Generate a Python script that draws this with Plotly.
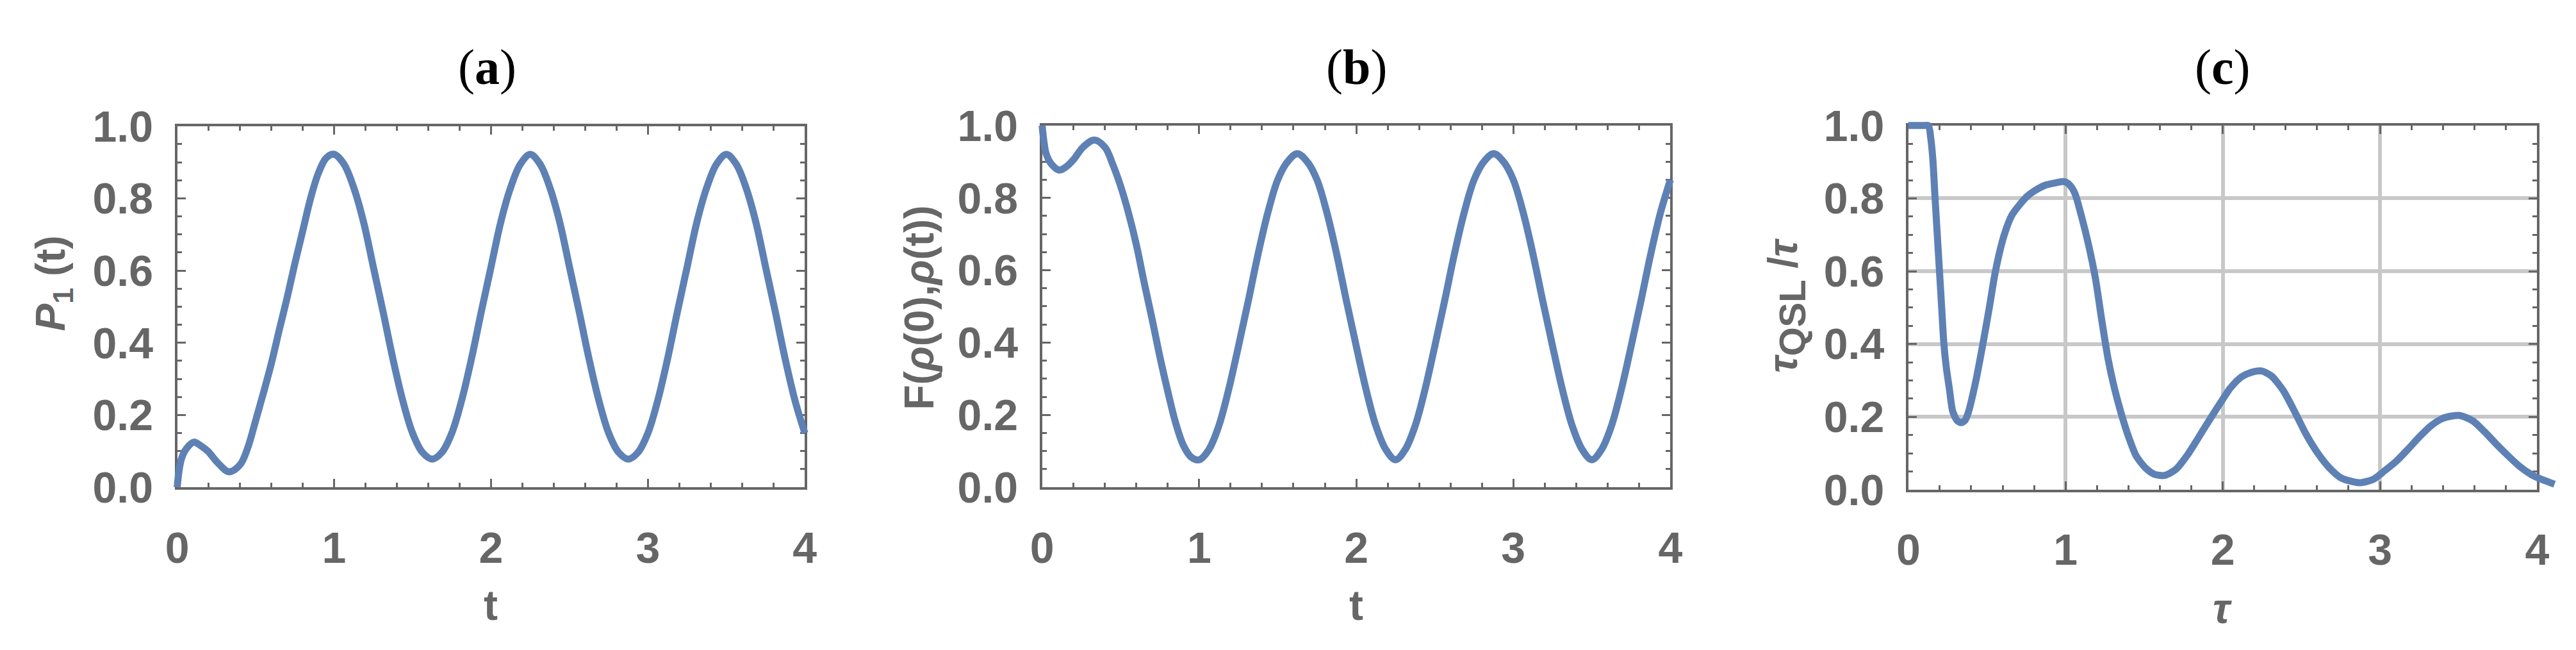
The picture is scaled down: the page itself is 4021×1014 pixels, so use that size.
import plotly.graph_objects as go

# ---------------- data ----------------
t_a = [0, 0.01, 0.027, 0.06, 0.107, 0.15, 0.195, 0.26, 0.33, 0.40, 0.45, 0.5, 0.55, 0.6,
       0.65, 0.7, 0.75, 0.8, 0.85, 0.9, 0.95,
       1.0, 1.0625, 1.125, 1.1875, 1.25, 1.3125, 1.375, 1.4375, 1.5, 1.5625,
       1.625, 1.6875, 1.75, 1.8125, 1.875, 1.9375, 2.0, 2.0625, 2.125, 2.1875,
       2.25, 2.3125, 2.375, 2.4375, 2.5, 2.5625, 2.625, 2.6875, 2.75, 2.8125,
       2.875, 2.9375, 3.0, 3.0625, 3.125, 3.1875, 3.25, 3.3125, 3.375, 3.4375,
       3.5, 3.5625, 3.625, 3.6875, 3.75, 3.8125, 3.875, 3.9375, 4.0]
p1_a = [0, 0.04, 0.079, 0.108, 0.125, 0.115, 0.10, 0.067, 0.043, 0.062, 0.11, 0.185, 0.262, 0.343,
        0.435, 0.524, 0.62, 0.71, 0.80, 0.87, 0.912,
        0.922, 0.895, 0.83, 0.735, 0.61, 0.485, 0.355, 0.24, 0.15, 0.097,
        0.078, 0.097, 0.15, 0.24, 0.355, 0.485, 0.61, 0.735, 0.83, 0.895,
        0.922, 0.895, 0.83, 0.735, 0.61, 0.485, 0.355, 0.24, 0.15, 0.097,
        0.078, 0.097, 0.15, 0.24, 0.355, 0.485, 0.61, 0.735, 0.83, 0.895,
        0.922, 0.895, 0.83, 0.735, 0.61, 0.485, 0.355, 0.24, 0.15]

t_b = [0, 0.01, 0.027, 0.06, 0.108, 0.15, 0.2, 0.26, 0.332, 0.40, 0.45, 0.5, 0.55, 0.6,
       0.65, 0.7, 0.75, 0.8, 0.85, 0.9, 0.95,
       1.0, 1.0625, 1.125, 1.1875, 1.25, 1.3125, 1.375, 1.4375, 1.5, 1.5625,
       1.625, 1.6875, 1.75, 1.8125, 1.875, 1.9375, 2.0, 2.0625, 2.125, 2.1875,
       2.25, 2.3125, 2.375, 2.4375, 2.5, 2.5625, 2.625, 2.6875, 2.75, 2.8125,
       2.875, 2.9375, 3.0, 3.0625, 3.125, 3.1875, 3.25, 3.3125, 3.375, 3.4375,
       3.5, 3.5625, 3.625, 3.6875, 3.75, 3.8125, 3.875, 3.9375, 4.0]
f_b = [1.0, 0.96, 0.92, 0.893, 0.877, 0.885, 0.906, 0.94, 0.96, 0.94, 0.892, 0.832, 0.758, 0.67,
       0.565, 0.465, 0.36, 0.265, 0.178, 0.115, 0.083,
       0.076, 0.105, 0.17, 0.27, 0.39, 0.515, 0.645, 0.76, 0.85, 0.9,
       0.922, 0.9, 0.85, 0.76, 0.645, 0.515, 0.39, 0.27, 0.17, 0.105,
       0.076, 0.105, 0.17, 0.27, 0.39, 0.515, 0.645, 0.76, 0.85, 0.9,
       0.922, 0.9, 0.85, 0.76, 0.645, 0.515, 0.39, 0.27, 0.17, 0.105,
       0.076, 0.105, 0.17, 0.27, 0.39, 0.515, 0.645, 0.76, 0.85]

tau_c = [0, 0.05, 0.1, 0.128, 0.142, 0.156, 0.17, 0.184, 0.198, 0.212, 0.226, 0.243, 0.26,
         0.282, 0.31, 0.335, 0.36, 0.38, 0.425, 0.474, 0.515, 0.554, 0.61, 0.66, 0.714,
         0.756, 0.8, 0.87, 0.94, 0.98, 1.0, 1.03, 1.06, 1.10, 1.146, 1.19, 1.23, 1.27,
         1.31, 1.356, 1.40, 1.45, 1.51, 1.565, 1.628, 1.70, 1.77, 1.84, 1.91, 1.98,
         2.05, 2.12, 2.18, 2.246, 2.31, 2.385, 2.46, 2.53, 2.606, 2.68, 2.753, 2.826,
         2.878, 2.96, 3.03, 3.106, 3.18, 3.253, 3.326, 3.4, 3.503, 3.59, 3.665, 3.74,
         3.81, 3.885, 3.96, 4.0, 4.047, 4.11]
qsl_c = [1.0, 1.0, 1.0, 1.0, 0.967, 0.906, 0.80, 0.70, 0.60, 0.50, 0.40, 0.33, 0.28,
         0.215, 0.19, 0.184, 0.19, 0.21, 0.29, 0.40, 0.50, 0.60, 0.70, 0.755, 0.786,
         0.806, 0.82, 0.836, 0.843, 0.846, 0.845, 0.835, 0.813, 0.753, 0.673, 0.58, 0.466, 0.36,
         0.28, 0.206, 0.146, 0.092, 0.059, 0.042, 0.039, 0.055, 0.092, 0.139, 0.188, 0.235,
         0.28, 0.31, 0.322, 0.326, 0.312, 0.272, 0.212, 0.152, 0.099, 0.059, 0.032, 0.022,
         0.019, 0.029, 0.052, 0.079, 0.112, 0.146, 0.176, 0.196, 0.204, 0.189, 0.159, 0.125,
         0.095, 0.065, 0.042, 0.033, 0.025, 0.015]

x_tick_vals = [0, 1, 2, 3, 4]
x_tick_text = ["0", "1", "2", "3", "4"]
y_tick_vals = [0, 0.2, 0.4, 0.6, 0.8, 1.0]
y_tick_text = ["0.0", "0.2", "0.4", "0.6", "0.8", "1.0"]

panel_titles = ["(<b>a</b>)", "(<b>b</b>)", "(<b>c</b>)"]
x_titles = ["t", "t", "<i>τ</i>"]
y_titles = ["<i>P</i><sub>1</sub> (t)",
            "F(<i>ρ</i>(0),<i>ρ</i>(t))",
            "<i>τ</i><sub><span style='font-size:58px'>QSL</span></sub> /<i>τ</i>"]

# ---------------- layout / styling ----------------
W, H = 4021, 1014
GRAY = "#666666"
BLUE = "#5e81b5"
GRID = "#c8c8c8"
SANS = "Liberation Sans"
SERIF = "Liberation Serif"

# pixel boxes of the three frames (left, right, top, bottom)
boxes = [(252, 1241, 163, 772), (1615, 2605, 162, 772), (2980, 3971, 162, 776)]
title_pos = [(741, 63), (2110, 63), (3475, 63)]
xtitle_pos = [(746, 971), (2110, 971), (3475, 976)]
ytitle_pos = [(56, 428), (1421, 469), (2787, 466)]
smooth = [1.0, 1.0, 0.7]

series = [(t_a, p1_a), (t_b, f_b), (tau_c, qsl_c)]


def sfx(n):
    return "" if n == 1 else str(n)


fig = go.Figure()
layout = dict(width=W, height=H, margin=dict(l=0, r=0, t=0, b=0), autosize=False,
              paper_bgcolor="white", plot_bgcolor="rgba(0,0,0,0)", showlegend=False)

E = 45  # extra pixels so the curve is not clipped by the frame
annotations = []
for i, (l, r, t, b) in enumerate(boxes):
    n = i + 1
    m = i + 4
    grid = (i == 2)
    tickfont = dict(family=SANS, size=68, color=GRAY, weight="bold")
    layout[f"xaxis{sfx(n)}"] = dict(
        domain=[l / W, r / W], range=[0, 4], anchor=f"y{sfx(n)}",
        showline=True, linecolor=GRAY, linewidth=4, mirror="allticks",
        ticks="inside", ticklen=13, tickwidth=3, tickcolor=GRAY,
        tickmode="array", tickvals=x_tick_vals, ticktext=x_tick_text,
        tickfont=tickfont, ticklabelstandoff=32,
        minor=dict(ticks="inside", ticklen=7, tickwidth=3, tickcolor=GRAY,
                   dtick=0.2, tick0=0, showgrid=False),
        showgrid=grid, gridcolor=GRID, gridwidth=6, zeroline=False, fixedrange=True)
    layout[f"yaxis{sfx(n)}"] = dict(
        domain=[1 - b / H, 1 - t / H], range=[0, 1], anchor=f"x{sfx(n)}",
        showline=True, linecolor=GRAY, linewidth=4, mirror="allticks",
        ticks="inside", ticklen=13, tickwidth=3, tickcolor=GRAY,
        tickmode="array", tickvals=y_tick_vals, ticktext=y_tick_text,
        tickfont=tickfont, ticklabelstandoff=20,
        minor=dict(ticks="inside", ticklen=7, tickwidth=3, tickcolor=GRAY,
                   dtick=0.05, tick0=0, showgrid=False),
        showgrid=grid, gridcolor=GRID, gridwidth=6, zeroline=False, fixedrange=True)
    # invisible anchor trace so the framed subplot is drawn
    fig.add_trace(go.Scatter(x=[x_tick_vals[0]], y=[y_tick_vals[0]], mode="markers",
                             marker=dict(opacity=0, size=1), xaxis=f"x{sfx(n)}", yaxis=f"y{sfx(n)}",
                             hoverinfo="skip"))

    # overlay axes (same scale, slightly larger area) so the curve is not clipped at the frame
    pxu = (r - l) / 4.0
    pyu = (b - t) / 1.0
    layout[f"xaxis{m}"] = dict(
        domain=[(l - E) / W, (r + E) / W], range=[-E / pxu, 4 + E / pxu],
        anchor=f"y{m}", visible=False, showticklabels=False, fixedrange=True)
    layout[f"yaxis{m}"] = dict(
        domain=[1 - (b + E) / H, 1 - (t - E) / H], range=[-E / pyu, 1 + E / pyu],
        anchor=f"x{m}", visible=False, showticklabels=False, fixedrange=True)

    xs, ys = series[i]
    fig.add_trace(go.Scatter(x=xs, y=ys, mode="lines", xaxis=f"x{m}", yaxis=f"y{m}",
                             line=dict(color=BLUE, width=11, shape="spline", smoothing=smooth[i]),
                             hoverinfo="skip"))

    tx, ty = title_pos[i]
    annotations.append(dict(text=panel_titles[i], x=tx / W, y=1 - ty / H, xref="paper", yref="paper",
                            xanchor="center", yanchor="middle", showarrow=False,
                            font=dict(family=SERIF, size=78, color="black")))
    ax_, ay_ = xtitle_pos[i]
    annotations.append(dict(text=x_titles[i], x=ax_ / W, y=1 - ay_ / H, xref="paper", yref="paper",
                            xanchor="center", yanchor="middle", showarrow=False,
                            font=dict(family=SANS, size=66, color=GRAY, weight="bold")))
    yx_, yy_ = ytitle_pos[i]
    annotations.append(dict(text=y_titles[i], x=yx_ / W, y=1 - yy_ / H, xref="paper", yref="paper",
                            xanchor="center", yanchor="middle", showarrow=False, textangle=-90,
                            font=dict(family=SANS, size=64, color=GRAY, weight="bold")))

layout["annotations"] = annotations
fig.update_layout(**layout)
fig.write_html("out.html")
